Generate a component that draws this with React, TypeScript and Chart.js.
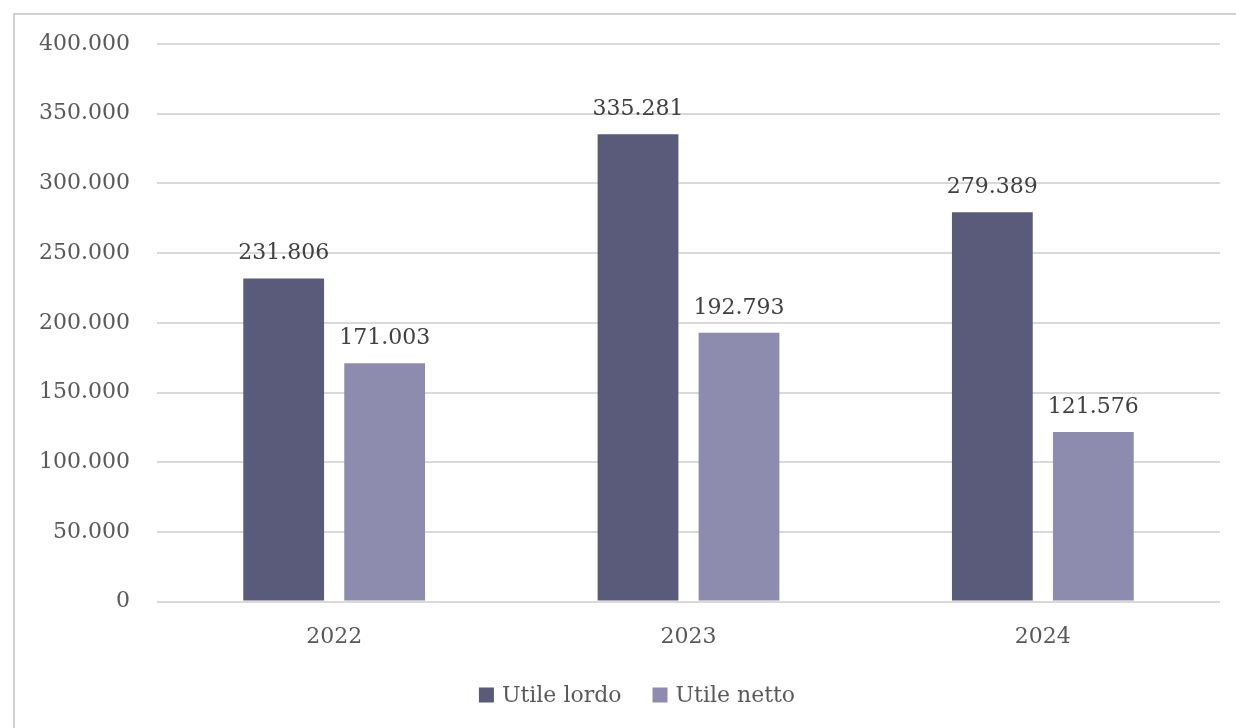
import React, { useEffect, useRef } from "react";
import { Chart, registerables } from "chart.js";

Chart.register(...registerables);

const categories = ["2022", "2023", "2024"];
const utileLordo = [231806, 335281, 279389];
const utileNetto = [171003, 192793, 121576];
const seriesNames = ["Utile lordo", "Utile netto"];
const yTicks = [0, 50000, 100000, 150000, 200000, 250000, 300000, 350000, 400000];

const FONT = "'DejaVu Serif', serif";
const TEXT = "#595959";
const GRID = "#d9d9d9";

const fmt = (v: number) => String(Math.round(v)).replace(/\B(?=(\d{3})+(?!\d))/g, ".");

const borderPlugin = {
  id: "frame",
  beforeDraw(chart: any) {
    const ctx = chart.ctx;
    ctx.save();
    ctx.fillStyle = "#ffffff";
    ctx.fillRect(0, 0, chart.width, chart.height);
    ctx.strokeStyle = "#d0d0d0";
    ctx.lineWidth = 2;
    ctx.beginPath();
    ctx.moveTo(14, chart.height);
    ctx.lineTo(14, 14);
    ctx.lineTo(chart.width, 14);
    ctx.stroke();
    ctx.restore();
  },
};

const labelPlugin = {
  id: "valueLabels",
  afterDatasetsDraw(chart: any) {
    const ctx = chart.ctx;
    ctx.save();
    ctx.font = `22px ${FONT}`;
    ctx.fillStyle = "#404040";
    ctx.textAlign = "center";
    ctx.textBaseline = "alphabetic";
    chart.data.datasets.forEach((ds: any, i: number) => {
      const meta = chart.getDatasetMeta(i);
      meta.data.forEach((bar: any, j: number) => {
        ctx.fillText(fmt(ds.data[j]), bar.x, bar.y - 19);
      });
    });
    ctx.restore();
  },
};

const legendPlugin = {
  id: "customLegend",
  afterDraw(chart: any) {
    const ctx = chart.ctx;
    ctx.save();
    ctx.font = `22px ${FONT}`;
    ctx.textBaseline = "middle";
    ctx.textAlign = "left";
    const box = 15, gapBox = 8, gapItem = 31;
    const items = chart.data.datasets.map((ds: any) => ({
      text: ds.label,
      color: ds.backgroundColor,
      w: ctx.measureText(ds.label).width,
    }));
    const total = items.reduce((a: number, it: any) => a + box + gapBox + it.w, 0) + gapItem * (items.length - 1);
    const cy = 695;
    let x = 637 - total / 2;
    items.forEach((it: any) => {
      ctx.fillStyle = it.color;
      ctx.fillRect(x, cy - box / 2, box, box);
      x += box + gapBox;
      ctx.fillStyle = TEXT;
      ctx.fillText(it.text, x, cy + 1);
      x += it.w + gapItem;
    });
    ctx.restore();
  },
};

export default function App() {
  const ref = useRef<HTMLCanvasElement>(null);
  useEffect(() => {
    document.body.style.margin = "0";
    const chart = new Chart(ref.current!, {
      type: "bar",
      data: {
        labels: categories,
        datasets: [
          { label: seriesNames[0], data: utileLordo, backgroundColor: "#5a5a7b" },
          { label: seriesNames[1], data: utileNetto, backgroundColor: "#8e8cae" },
        ],
      },
      options: {
        animation: false,
        responsive: false,
        maintainAspectRatio: false,
        layout: { padding: { top: 44, right: 16, bottom: 56, left: 0 } },
        datasets: { bar: { categoryPercentage: 0.57, barPercentage: 0.8 } },
        scales: {
          x: {
            grid: { display: false, drawTicks: false },
            border: { display: false },
            ticks: { color: TEXT, font: { family: FONT, size: 22 }, padding: 22 },
          },
          y: {
            min: 0,
            max: 400000,
            afterFit: (s: any) => { s.width = 157; },
            afterBuildTicks: (s: any) => { s.ticks = yTicks.map((v) => ({ value: v })); },
            grid: { color: GRID, lineWidth: 2, drawTicks: false },
            border: { display: false },
            ticks: { color: TEXT, font: { family: FONT, size: 22 }, padding: 27, callback: (v: any) => fmt(Number(v)) },
          },
        },
        plugins: {
          legend: { display: false },
          tooltip: { enabled: false },
        },
      },
      plugins: [borderPlugin, labelPlugin, legendPlugin],
    });
    return () => chart.destroy();
  }, []);
  return <canvas ref={ref} width={1236} height={728} style={{ display: "block" }} />;
}
